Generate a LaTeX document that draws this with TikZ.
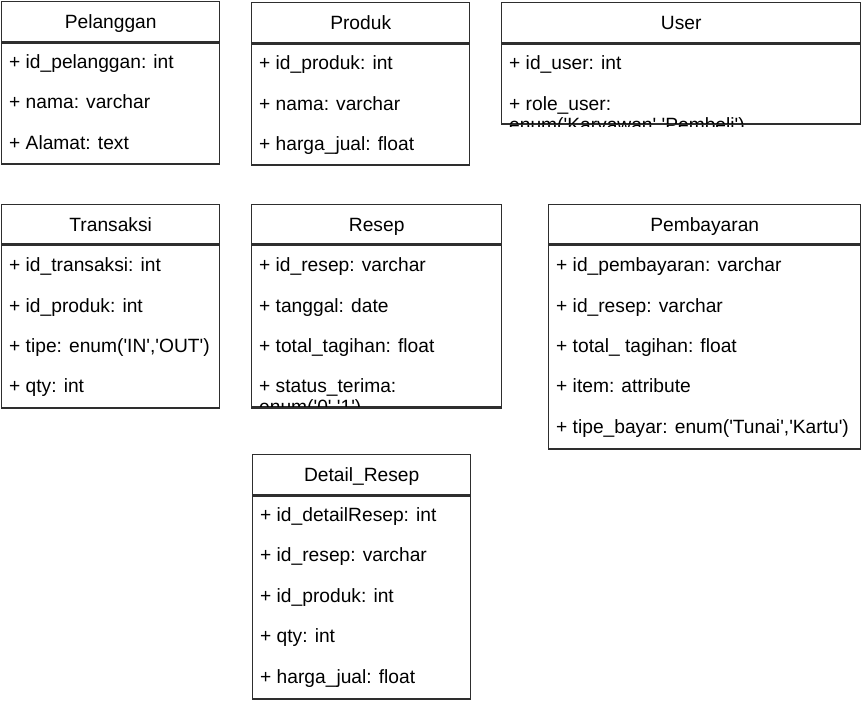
\documentclass[tikz,border=0pt]{standalone}
\usepackage{fontspec}
\setmainfont{Liberation Sans}
\newcommand\sq{\textquotesingle}
\newcommand\umlfont{\fontsize{19.2}{22}\selectfont}
\begin{document}
\begin{tikzpicture}[x=1pt,y=-1pt,
  boxpart/.style={draw=black!82, line width=1.4pt, anchor=north west, inner sep=0pt, fill=white},
  classtitle/.style={font=\umlfont, text=black, inner sep=0pt, text height=13.8pt, text depth=0pt},
  attr/.style={font=\umlfont, text=black, anchor=west, inner sep=0pt, text height=13.8pt, text depth=0pt},
  attrcut/.style={font=\umlfont, text=black, anchor=base west, inner sep=0pt}]
\fill[white] (0,0) rectangle (861,703);
\useasboundingbox (0,0) rectangle (861,703);

% Pelanggan
\node[boxpart, minimum width=218pt, minimum height=40pt] (pelH) at (1,1) {};
\node[boxpart, minimum width=218pt, minimum height=121pt] (pelB) at (pelH.south west) {};
\node[classtitle] (pelT) at (pelH.center) {Pelanggan};
\node[attr] (pel1) at (9,62) {+ id\_pelanggan: int};
\node[attr] (pel2) at (9,102) {+ nama: varchar};
\node[attr] (pel3) at (9,143) {+ Alamat: text};

% Produk
\node[boxpart, minimum width=218pt, minimum height=40pt] (proH) at (251,2) {};
\node[boxpart, minimum width=218pt, minimum height=121pt] (proB) at (proH.south west) {};
\node[classtitle] (proT) at (proH.center) {Produk};
\node[attr] (pro1) at (259,63) {+ id\_produk: int};
\node[attr] (pro2) at (259,104) {+ nama: varchar};
\node[attr] (pro3) at (259,144) {+ harga\_jual: float};

% User
\node[boxpart, minimum width=359pt, minimum height=40pt] (usrH) at (501,2) {};
\node[boxpart, minimum width=359pt, minimum height=80pt] (usrB) at (usrH.south west) {};
\node[classtitle] (usrT) at (usrH.center) {User};
\node[attr] (usr1) at (509,63) {+ id\_user: int};
\node[attr] (usr2) at (509,104) {+ role\_user:};
\begin{scope}
\clip (501,100) rectangle (861,126.5);
\node[attrcut] (usr3) at (509,131.5) {enum(\sq Karyawan\sq,\sq Pembeli\sq)};
\end{scope}
\draw[black!82, line width=1.4pt] (usrB.south west) -- (usrB.south east);

% Transaksi
\node[boxpart, minimum width=218pt, minimum height=39pt] (trxH) at (1,204) {};
\node[boxpart, minimum width=218pt, minimum height=163pt] (trxB) at (trxH.south west) {};
\node[classtitle] (trxT) at (trxH.center) {Transaksi};
\node[attr] (trx1) at (9,265) {+ id\_transaksi: int};
\node[attr] (trx2) at (9,306) {+ id\_produk: int};
\node[attr] (trx3) at (9,346) {+ tipe: enum(\sq IN\sq,\sq OUT\sq)};
\node[attr] (trx4) at (9,386) {+ qty: int};

% Resep
\node[boxpart, minimum width=250pt, minimum height=39pt] (rsH) at (251,204) {};
\node[boxpart, minimum width=250pt, minimum height=162pt] (rsB) at (rsH.south west) {};
\node[classtitle] (rsT) at (rsH.center) {Resep};
\node[attr] (rs1) at (259,265) {+ id\_resep: varchar};
\node[attr] (rs2) at (259,306) {+ tanggal: date};
\node[attr] (rs3) at (259,346) {+ total\_tagihan: float};
\node[attr] (rs4) at (259,386) {+ status\_terima:};
\begin{scope}
\clip (251,380) rectangle (502,408.5);
\node[attrcut] (rs5) at (259,413.5) {enum(\sq 0\sq,\sq 1\sq)};
\end{scope}
\draw[black!82, line width=1.4pt] (rsB.south west) -- (rsB.south east);

% Pembayaran
\node[boxpart, minimum width=312pt, minimum height=39pt] (pbH) at (548,204) {};
\node[boxpart, minimum width=312pt, minimum height=204pt] (pbB) at (pbH.south west) {};
\node[classtitle] (pbT) at (pbH.center) {Pembayaran};
\node[attr] (pb1) at (556,265) {+ id\_pembayaran: varchar};
\node[attr] (pb2) at (556,306) {+ id\_resep: varchar};
\node[attr] (pb3) at (556,346) {+ total\_ tagihan: float};
\node[attr] (pb4) at (556,386) {+ item: attribute};
\node[attr] (pb5) at (556,427) {+ tipe\_bayar: enum(\sq Tunai\sq,\sq Kartu\sq)};

% Detail_Resep
\node[boxpart, minimum width=218pt, minimum height=40pt] (drH) at (252,454) {};
\node[boxpart, minimum width=218pt, minimum height=203pt] (drB) at (drH.south west) {};
\node[classtitle] (drT) at (drH.center) {Detail\_Resep};
\node[attr] (dr1) at (260,515) {+ id\_detailResep: int};
\node[attr] (dr2) at (260,555) {+ id\_resep: varchar};
\node[attr] (dr3) at (260,596) {+ id\_produk: int};
\node[attr] (dr4) at (260,636) {+ qty: int};
\node[attr] (dr5) at (260,677) {+ harga\_jual: float};
\end{tikzpicture}
\end{document}
